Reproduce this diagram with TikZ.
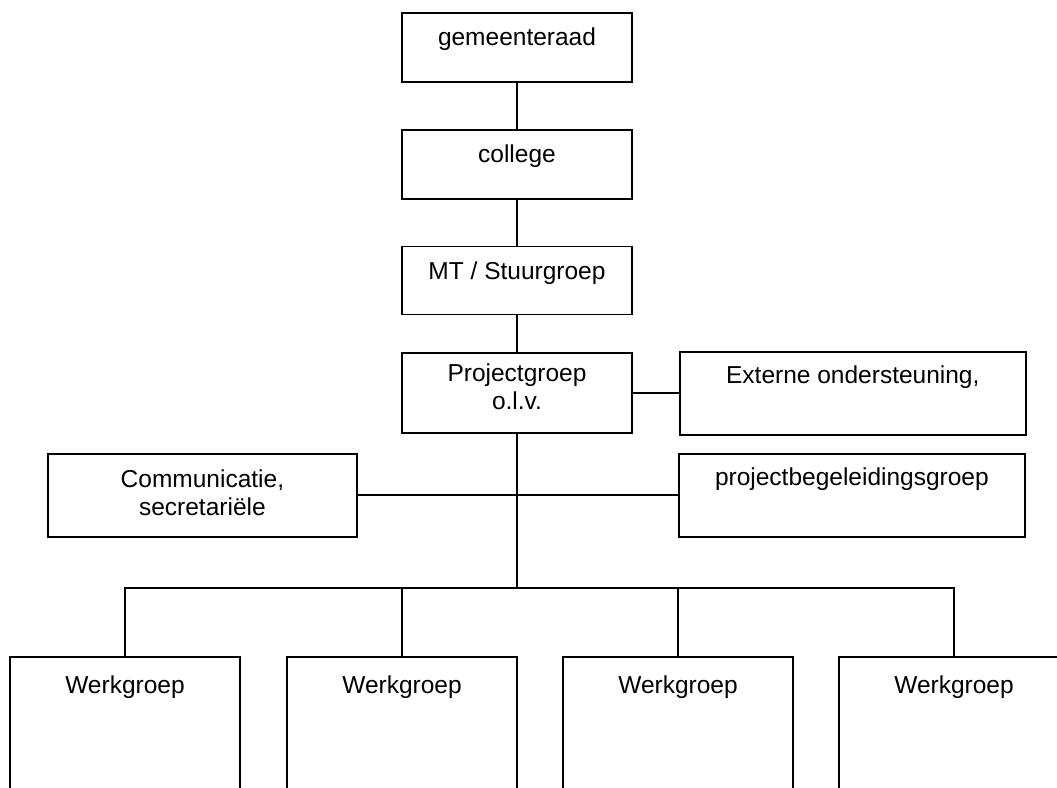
\documentclass[tikz,border=0pt]{standalone}
\usepackage{fontspec}
\setmainfont{Liberation Sans}
\usetikzlibrary{positioning}
\tikzset{
    x=1pt, y=1pt,
    % Shapes
    box/.style={rectangle, draw, line width=1.8pt, inner sep=0pt, align=center,
                font=\fontsize{24.5}{28}\selectfont, text height=33pt},
    topBox/.style={box, minimum width=230pt, text depth=36pt},
    sideBox/.style={box, minimum width=346pt, text height=32pt, text depth=51pt},
    wgBox/.style={box, minimum width=230pt, text height=37pt, text depth=200pt},
    % Lines
    link/.style={line width=2pt}
}
\begin{document}
\begin{tikzpicture}
\useasboundingbox (0,0) rectangle (1057,-787);
\clip (0,0) rectangle (1057,-787);

\node[topBox, anchor=north] (raad) at (517,-12) {gemeenteraad};
\node[topBox, below=46pt of raad] (college) {college};
\node[topBox, text depth=35pt, below=46pt of college] (mt) {MT / Stuurgroep};
\node[topBox, text height=56pt, text depth=24pt, below=37pt of mt] (proj) {Projectgroep\\o.l.v.};
\node[sideBox, right=46pt of proj] (extern) {Externe ondersteuning,};

\node[sideBox, anchor=north west] (begeleiding) at (678,-453) {projectbegeleidingsgroep};
\node[sideBox, minimum width=309pt, text height=62pt, text depth=21pt, anchor=north west] (comm) at (47,-453) {Communicatie,\\secretariële};

% Werkgroepen
\foreach \i/\x in {1/125, 2/402, 3/678, 4/954}
    \node[wgBox, anchor=north] (wg\i) at (\x,-656) {Werkgroep};

\draw[link] (raad) -- (college);
\draw[link] (college) -- (mt);
\draw[link] (mt) -- (proj);
\draw[link] (proj) -- (extern);
\draw[link] (comm) -- (begeleiding);

\coordinate (bus) at (517,-588);
\draw[link] (proj.south) -- (bus);
\foreach \i in {1,...,4}
    \draw[link] (bus) -| (wg\i.north);

\end{tikzpicture}
\end{document}
